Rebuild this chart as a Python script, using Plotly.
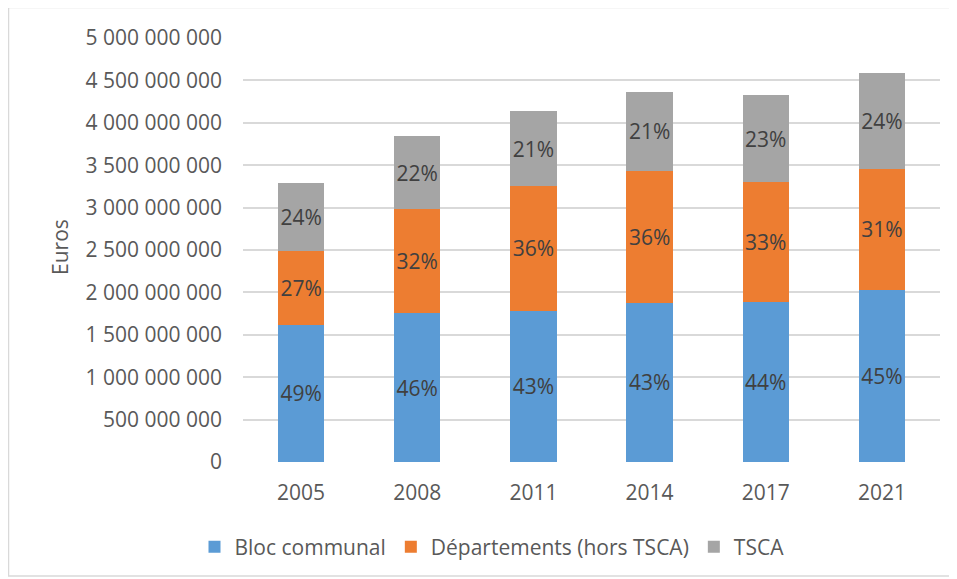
import plotly.graph_objects as go

years = ["2005", "2008", "2011", "2014", "2017", "2021"]
bloc_communal = [1.620e9, 1.757e9, 1.784e9, 1.879e9, 1.890e9, 2.032e9]
departements = [0.870e9, 1.226e9, 1.474e9, 1.556e9, 1.407e9, 1.423e9]
tsca = [0.795e9, 0.861e9, 0.876e9, 0.928e9, 1.031e9, 1.132e9]
pct_bloc = ["49%", "46%", "43%", "43%", "44%", "45%"]
pct_dep = ["27%", "32%", "36%", "36%", "33%", "31%"]
pct_tsca = ["24%", "22%", "21%", "21%", "23%", "24%"]
y_ticks = [i * 500_000_000 for i in range(11)]
y_tick_labels = ["0"] + [f"{v:,}".replace(",", " ") for v in y_ticks[1:]]

FONT = "Open Sans"
series = [
    ("Bloc communal", bloc_communal, pct_bloc, "#5B9BD5"),
    ("Départements (hors TSCA)", departements, pct_dep, "#ED7D31"),
    ("TSCA", tsca, pct_tsca, "#A5A5A5"),
]

fig = go.Figure()
for name, vals, txt, col in series:
    fig.add_trace(go.Bar(
        x=years, y=vals, name=name, marker=dict(color=col, line=dict(width=0)),
        text=txt, textposition="inside", insidetextanchor="middle",
        textfont=dict(family=FONT, size=21, color="#404040"),
        textangle=0, constraintext="none",
    ))

OFF = 8  # page body margin
W, H = 957 - OFF, 579 - OFF
L, R, T, B = 243 - OFF, 17, 38 - OFF, 117
pw, ph = W - L - R, H - T - B

def px_x(x):
    return (x - OFF - L) / pw

def px_y(y):
    return (H - B - (y - OFF)) / ph

fig.update_layout(
    barmode="stack", bargap=0.6,
    width=W, height=H,
    margin=dict(l=L, r=R, t=T, b=B, autoexpand=False),
    paper_bgcolor="white", plot_bgcolor="white",
    font=dict(family=FONT, color="#595959", size=21),
    showlegend=True,
    legend=dict(orientation="h", x=px_x(492), xanchor="center", y=px_y(547), yanchor="middle",
                font=dict(family=FONT, size=21, color="#595959"),
                itemwidth=30, traceorder="normal"),
    yaxis=dict(range=[0, 5e9], tickvals=y_ticks, ticktext=y_tick_labels,
               showgrid=True, gridcolor="#D9D9D9", gridwidth=1.5,
               zeroline=False, showline=False, ticks="", ticklen=0,
               ticklabelstandoff=20,
               tickfont=dict(family=FONT, size=21, color="#595959")),
    xaxis=dict(showgrid=False, showline=False, ticks="", ticklabelstandoff=16,
               tickfont=dict(family=FONT, size=21, color="#595959")),
    annotations=[dict(text="Euros", xref="paper", yref="paper", x=px_x(60), y=px_y(247),
                      xanchor="center", yanchor="middle", textangle=-90, showarrow=False,
                      font=dict(family=FONT, size=21, color="#595959"))],
    shapes=[dict(type="rect", xref="paper", yref="paper",
                 x0=px_x(8.5), x1=px_x(950), y0=px_y(576), y1=px_y(7.5),
                 line=dict(color="#D9D9D9", width=1.5), fillcolor="rgba(0,0,0,0)", layer="below")],
)
fig.update_yaxes(automargin=False)
fig.update_xaxes(automargin=False)
fig.write_html("out.html")
